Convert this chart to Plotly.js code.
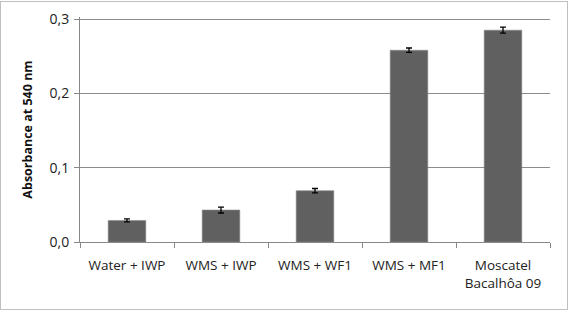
<!DOCTYPE html>
<html>
<head>
<meta charset="utf-8">
<script src="https://cdn.plot.ly/plotly-3.0.1.min.js"></script>
<style>
html,body{margin:0;padding:0;background:#fff;}
#frame{position:absolute;left:0;top:1px;width:566px;height:307px;border:1px solid #bfbfbf;}
#chart{position:absolute;left:-1px;top:-2px;width:569px;height:310px;}
</style>
</head>
<body>
<div id="frame"><div id="chart"></div></div>
<script>
const categories = ["Water + IWP", "WMS + IWP", "WMS + WF1", "WMS + MF1", "Moscatel<br>Bacalhôa 09"];
const absorbance = [0.029, 0.043, 0.069, 0.258, 0.285];
const errors = [0.002, 0.004, 0.003, 0.003, 0.004];
const yTicks = [0, 0.1, 0.2, 0.3];

const trace = {
  type: "bar",
  x: categories,
  y: absorbance,
  marker: {color: "#606060", line: {color: "#8a8a8a", width: 0.6}},
  error_y: {type: "data", array: errors, visible: true, color: "#000", thickness: 1.3, width: 3}
};

const layout = {
  width: 569, height: 310,
  margin: {l: 80, r: 19, t: 17, b: 68},
  paper_bgcolor: "rgba(0,0,0,0)",
  plot_bgcolor: "#fff",
  separators: ", ",
  showlegend: false,
  bargap: 0.6,
  font: {family: "Open Sans, sans-serif", size: 12, color: "#222"},
  xaxis: {
    type: "category",
    showline: true, linecolor: "#888", linewidth: 1,
    ticks: "outside", tickson: "boundaries", ticklen: 5, tickcolor: "#888",
    showgrid: false,
    ticklabelstandoff: 11,
    tickfont: {size: 13.5, color: "#222"}
  },
  yaxis: {
    range: [0, 0.3027],
    tickvals: yTicks,
    tickformat: ".1f",
    showline: true, linecolor: "#888", linewidth: 1,
    ticks: "outside", ticklen: 5, tickcolor: "#888",
    gridcolor: "#8c8c8c", gridwidth: 1,
    zeroline: false,
    ticklabelstandoff: 2,
    tickfont: {size: 14, color: "#222"},
    title: {text: "<b>Absorbance at 540 nm</b>", font: {size: 12.5, color: "#111"}, standoff: 14}
  }
};

Plotly.newPlot("chart", [trace], layout, {displayModeBar: false, staticPlot: true});
</script>
</body>
</html>
